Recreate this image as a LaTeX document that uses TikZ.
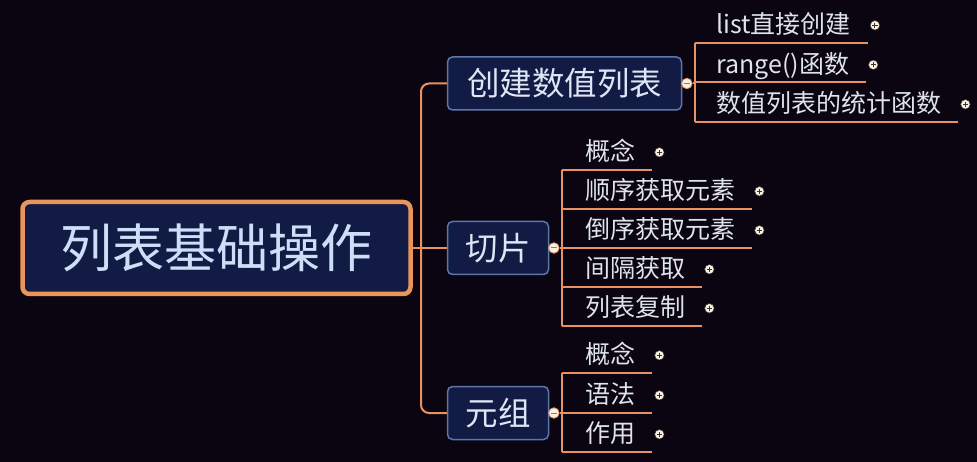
\documentclass[tikz,border=0pt]{standalone}
\usepackage{fontspec}
\setmainfont{Noto Sans CJK SC}
\usepackage{xcolor}
\definecolor{mapbg}{RGB}{10,5,16}
\definecolor{mmorange}{RGB}{232,146,100}
\definecolor{rootedge}{RGB}{234,150,90}
\definecolor{boxnavy}{RGB}{17,27,68}
\definecolor{boxedge}{RGB}{92,120,170}
\definecolor{roottext}{RGB}{205,222,248}
\definecolor{boxtext}{RGB}{222,230,245}
\definecolor{leaftext}{RGB}{222,227,236}
\definecolor{dotcream}{RGB}{248,240,226}
\definecolor{dotdark}{RGB}{60,48,44}
\usetikzlibrary{positioning}

\begin{document}
\begin{tikzpicture}[x=1pt,y=-1pt,
  rootbox/.style={draw=rootedge,line width=4.5pt,fill=boxnavy,rounded corners=7pt,
    minimum width=388pt,minimum height=92pt,text=roottext,
    font=\fontsize{52}{56}\selectfont},
  topicbox/.style={draw=boxedge,line width=1.5pt,fill=boxnavy,rounded corners=5pt,
    minimum height=53pt,text=boxtext,font=\fontsize{32.5}{36}\selectfont},
  branch/.style={draw=mmorange,line width=2pt},
  leaf/.style={anchor=south west,inner xsep=0pt,inner ysep=9pt,text height=17pt,
    text depth=0pt,text=leaftext,font=\fontsize{25}{29}\selectfont},
  minusdot/.style={circle,draw=mmorange,fill=dotcream,line width=0.8pt,
    minimum size=10.5pt,inner sep=0pt,
    path picture={\draw[gray,line width=1pt] (path picture bounding box.center)
      +(-3pt,0) -- +(3pt,0);}},
  plusdot/.style={circle,draw=dotdark,fill=dotcream,line width=0.5pt,
    minimum size=9.5pt,inner sep=0pt,
    path picture={\draw[dotdark,line width=1pt]
      (path picture bounding box.center) +(-2.6pt,0) -- +(2.6pt,0)
      (path picture bounding box.center) +(0,-2.6pt) -- +(0,2.6pt);}}
]
  \useasboundingbox[fill=mapbg] (0,0) rectangle (977,462);

  % Root and main topics
  \node[rootbox] (root) at (216.5,248) {列表基础操作};
  \node[topicbox,minimum width=234pt] (b1) at (564.5,83.5) {创建数值列表};
  \node[topicbox,minimum width=101pt] (b2) at (498,248) {切片};
  \node[topicbox,minimum width=101pt] (b3) at (498,413) {元组};

  % Trunk
  \coordinate (hub) at (421,248);
  \draw[branch] (root.east) -- (b2.west);
  \draw[branch,rounded corners=8pt] (b1.west) -| (hub) |- (b3.west);

  % Collapse dots
  \node[minusdot,right=-1pt of b1] (m1) {};
  \node[minusdot,right=-1pt of b2] (m2) {};
  \node[minusdot,right=-1pt of b3] (m3) {};
  \coordinate (j1) at ([xshift=2pt]m1.east);
  \coordinate (j2) at ([xshift=2pt]m2.east);
  \coordinate (j3) at ([xshift=2pt]m3.east);

  % Group 1: create
  \node[leaf] (l11) at (716,43) {list直接创建};
  \node[leaf] (l12) at (716,82.5) {range()函数};
  \node[leaf] (l13) at (716,122) {数值列表的统计函数};
  \draw[branch] (m1.east) -- (j1);
  \draw[branch] (j1 |- l11.south) -- (j1 |- l13.south);
  \draw[branch] (j1 |- l11.south) -- ([xshift=17pt]l11.south east);
  \draw[branch] (j1 |- l12.south) -- ([xshift=17pt]l12.south east);
  \draw[branch] (j1 |- l13.south) -- ([xshift=17pt]l13.south east);
  \node[plusdot,right=19pt of l11] (p11) {};
  \node[plusdot,right=19pt of l12] (p12) {};
  \node[plusdot,right=19pt of l13] (p13) {};

  % Group 2: slicing
  \node[leaf] (l21) at (585,170) {概念};
  \node[leaf] (l22) at (585,209) {顺序获取元素};
  \node[leaf] (l23) at (585,248) {倒序获取元素};
  \node[leaf] (l24) at (585,287) {间隔获取};
  \node[leaf] (l25) at (585,326) {列表复制};
  \draw[branch] (m2.east) -- (j2);
  \draw[branch] (j2 |- l21.south) -- (j2 |- l25.south);
  \foreach \n in {21,22,23,24,25}{
    \draw[branch] (j2 |- l\n.south) -- ([xshift=17pt]l\n.south east);
    \node[plusdot,right=19pt of l\n] (p\n) {};
  }

  % Group 3: tuple
  \node[leaf] (l31) at (585,373) {概念};
  \node[leaf] (l32) at (585,413) {语法};
  \node[leaf] (l33) at (585,452) {作用};
  \draw[branch] (m3.east) -- (j3);
  \draw[branch] (j3 |- l31.south) -- (j3 |- l33.south);
  \foreach \n in {31,32,33}{
    \draw[branch] (j3 |- l\n.south) -- ([xshift=17pt]l\n.south east);
    \node[plusdot,right=19pt of l\n] (p\n) {};
  }
\end{tikzpicture}
\end{document}
